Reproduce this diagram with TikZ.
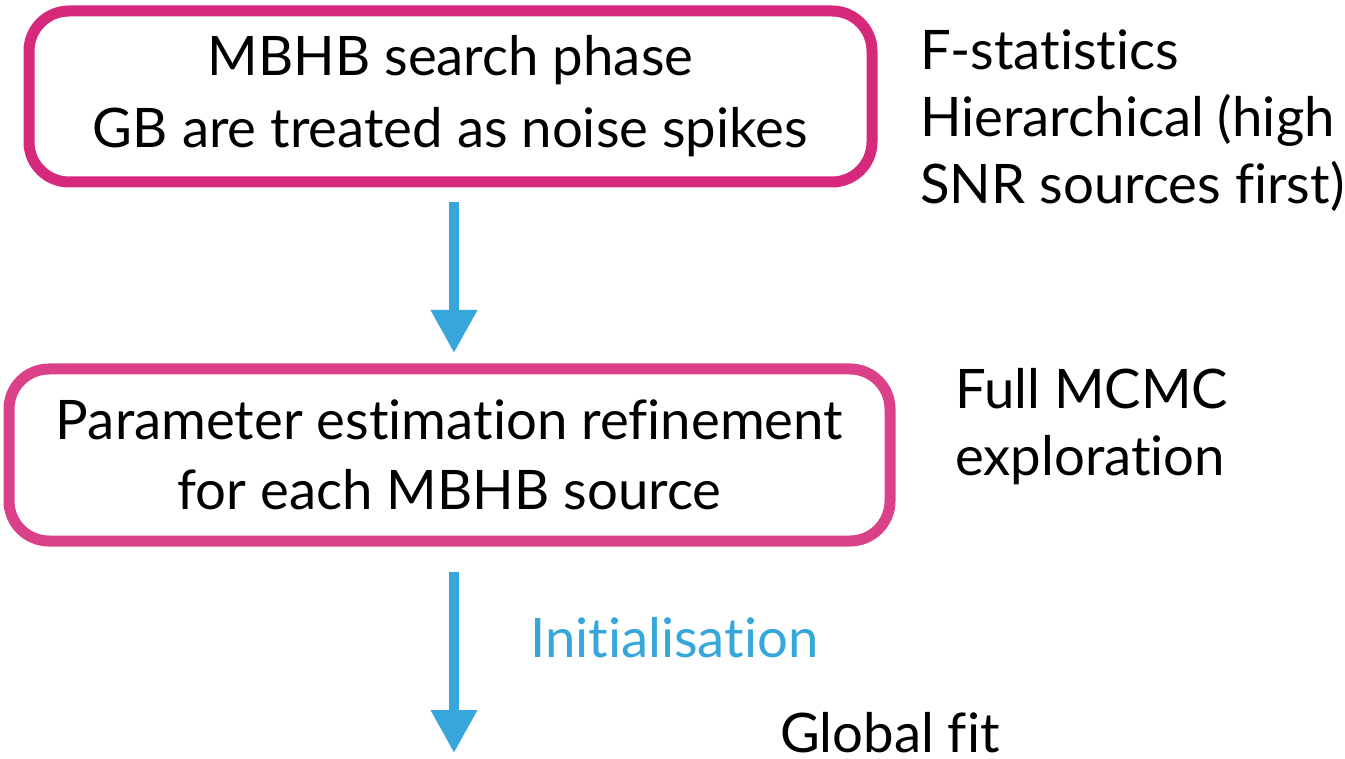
\documentclass[tikz,border=0pt]{standalone}
\usepackage{fontspec}
\setmainfont{Lato}[Ligatures={CommonOff}]
\usetikzlibrary{arrows.meta}
\definecolor{pinkA}{RGB}{214,41,123}
\definecolor{pinkB}{RGB}{219,65,137}
\definecolor{skyblue}{RGB}{54,166,219}
\begin{document}
\begin{tikzpicture}[x=1pt,y=-1pt,
  box/.style={draw, line width=11pt, rounded corners=40pt, inner sep=0pt, align=center},
  big/.style={font=\fontsize{54.5}{72}\selectfont},
  side/.style={font=\fontsize{54.5}{67}\selectfont, align=left, inner sep=0pt},
  flow/.style={draw=skyblue, line width=10pt, -{Triangle[width=44pt,length=43pt]}}
]
\useasboundingbox (0,0) rectangle (1345,759);
\node[box, big, draw=pinkA, minimum width=843pt, minimum height=171pt] (box1) at (450.5,96.5)
  {MBHB search phase\\GB are treated as noise spikes};
\node[box, font=\fontsize{54.5}{70}\selectfont, draw=pinkB, minimum width=881pt, minimum height=172pt] (box2) at (449.5,455)
  {Parameter estimation refinement\\for each MBHB source};
\node[side, anchor=north west] (fstat) at (920,30) {F-statistics\\Hierarchical (high\\SNR sources first)};
\node[side, anchor=north west] (mcmc) at (955,368) {Full MCMC\\exploration};
\node[side, anchor=base west, text=skyblue] (init) at (530,657) {Initialisation};
\node[side, anchor=base west] (glob) at (780,752) {Global fit};
\coordinate (end2) at (454,753);
\draw[flow, shorten <=14.5pt, shorten >=10.5pt] ([xshift=3.5pt]box1.south) -- ([xshift=4.5pt]box2.north);
\draw[flow, shorten <=25.5pt] ([xshift=4.5pt]box2.south) -- (end2);
\end{tikzpicture}
\end{document}
